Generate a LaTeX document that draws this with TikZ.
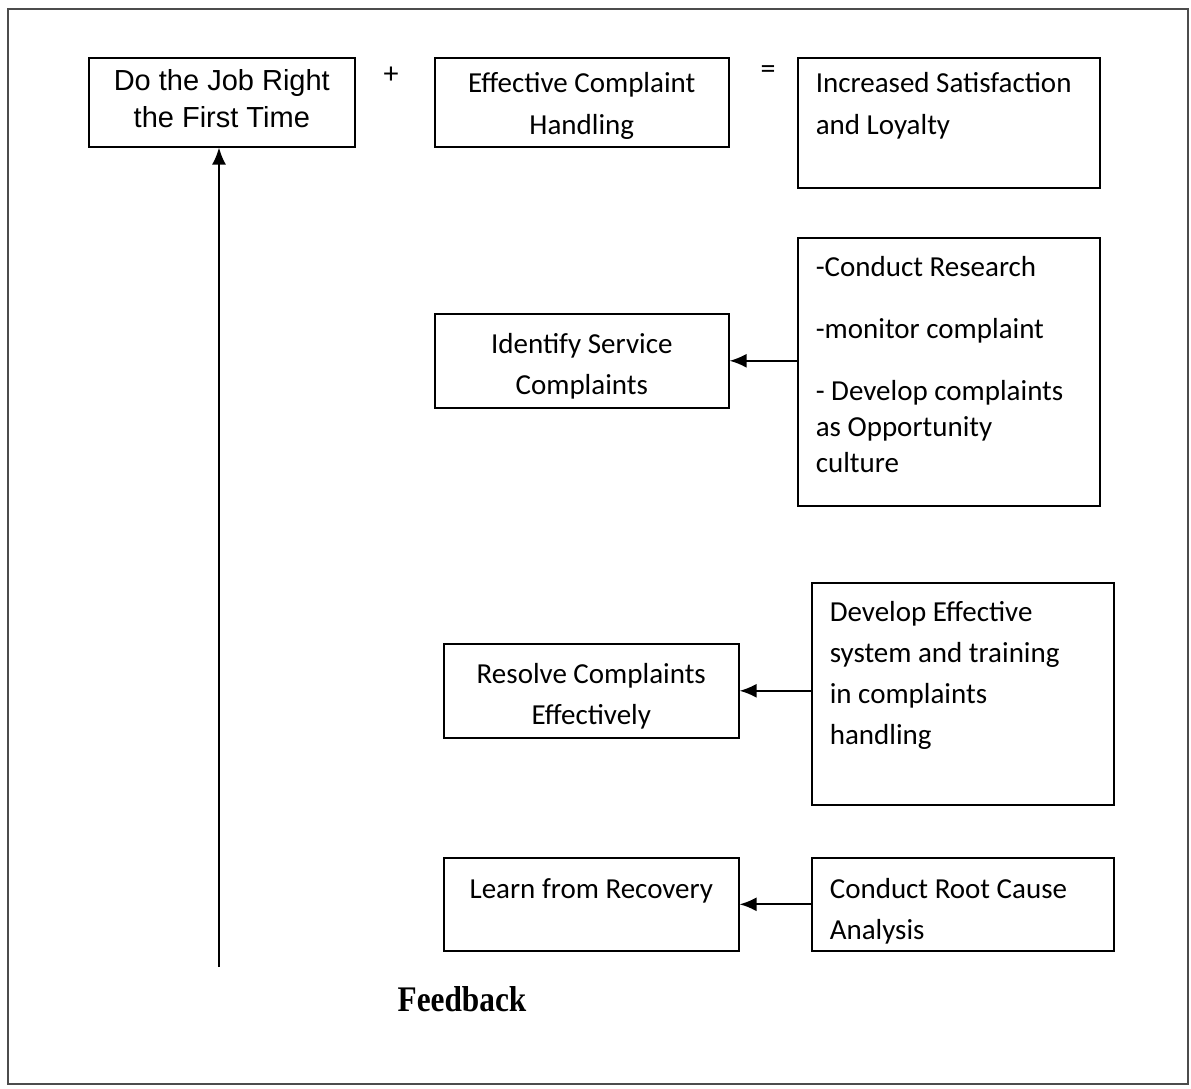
\documentclass[tikz,border=0pt]{standalone}
\usepackage{fontspec}
\setmainfont{Carlito}
\newfontfamily\arialfont{Liberation Sans}
\newfontfamily\timesfont{Liberation Serif}
\usetikzlibrary{positioning,arrows.meta}

\begin{document}
\begin{tikzpicture}[
  x=1pt,y=-1pt,
  act box/.style={draw,line width=1.6pt,anchor=north west,align=flush center,inner sep=0pt,text width=294pt,font=\fontsize{29}{41}\selectfont},
  note box/.style={draw,line width=1.6pt,anchor=north west,align=flush left,inner xsep=18pt,inner ysep=0pt,text width=266pt,font=\fontsize{29}{41}\selectfont},
  sign/.style={font=\fontsize{30}{30}\selectfont},
  flow/.style={-{Latex[length=17pt,width=14pt]},line width=1.8pt},
  ]
  \useasboundingbox (0,0) rectangle (1191,1089);
  \draw[line width=1.2pt,black!70] (8,9) rectangle (1188,1084);

  % top row
  \node[act box,text width=266pt,text height=33pt,text depth=56pt,font=\arialfont\fontsize{29}{37}\selectfont] (job) at (88,57) {Do the Job Right\\the First Time};
  \node[act box,text height=35pt,text depth=54pt,font=\fontsize{29}{42}\selectfont] (handling) at (434,57) {Effective Complaint\\Handling};
  \node[note box,text height=35pt,text depth=95pt,font=\fontsize{29}{42}\selectfont] (loyalty) at (797,57) {Increased Satisfaction\\and Loyalty};
  \node[sign] (plus) at (391,75) {+};
  \node[sign] (equals) at (768,72) {=};

  % steps
  \node[act box,text height=40pt,text depth=54pt] (identify) at (434,313) {Identify Service\\Complaints};
  \node[note box,text height=39pt,text depth=229pt,font=\fontsize{29}{36}\selectfont] (research) at (797,237)
    {-Conduct Research\\[26pt]-monitor complaint\\[26pt]- Develop complaints\\as Opportunity\\culture};
  \node[act box,text width=295pt,text height=40pt,text depth=54pt] (resolve) at (443,643) {Resolve Complaints\\Effectively};
  \node[note box,text height=39pt,text depth=183pt] (develop) at (811,582) {Develop Effective\\system and training\\in complaints\\handling};
  \node[act box,text width=295pt,text height=41pt,text depth=52pt] (learn) at (443,857) {Learn from Recovery};
  \node[note box,text height=41pt,text depth=52pt] (root) at (811,857) {Conduct Root Cause\\Analysis};

  \node[font=\timesfont\bfseries\fontsize{36}{36}\selectfont] (feedback) at (462,999) {\scalebox{0.87}[1]{Feedback}};
  \coordinate (fb end) at (219,967);

  \draw[flow] (research.west |- identify) -- (identify.east);
  \draw[flow] (develop.west |- resolve) -- (resolve.east);
  \draw[flow] (root.west) -- (learn.east);
  \draw[flow] (fb end) -- (fb end |- job.south);
\end{tikzpicture}
\end{document}
